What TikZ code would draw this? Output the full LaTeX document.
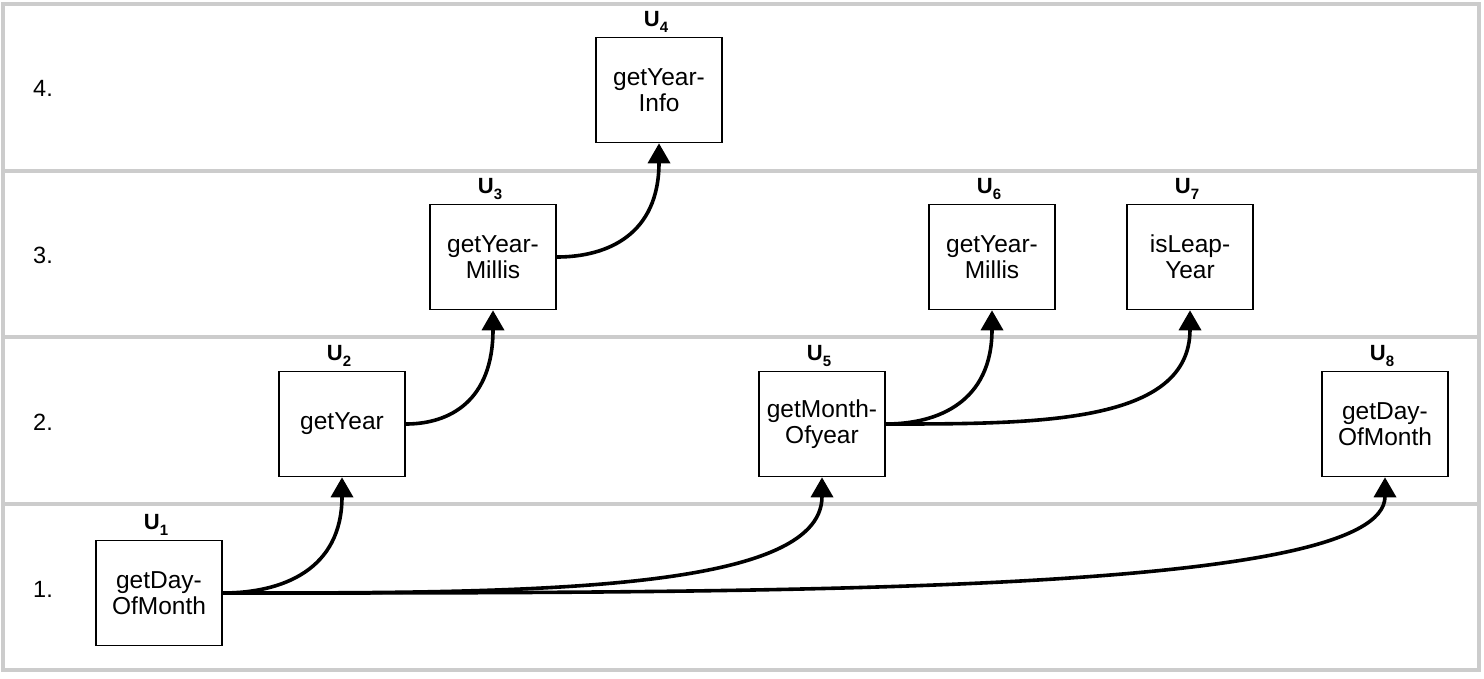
\documentclass[tikz,border=0pt]{standalone}
\usepackage{fontspec}
\setmainfont{Liberation Sans}
\usetikzlibrary{arrows.meta,calc}
\newcommand\usub[1]{\raisebox{-5.5pt}{\fontsize{15}{15}\selectfont\bfseries #1}}
\begin{document}
\begin{tikzpicture}[x=1pt,y=-1pt,
  lane/.style={draw=black!20,line width=3.5pt},
  fn/.style={draw=black,line width=1.6pt,minimum width=126pt,minimum height=105pt,inner sep=0pt,align=center,font=\fontsize{24.5}{26}\selectfont},
  lbl/.style={font=\fontsize{22}{22}\selectfont\bfseries,anchor=base,inner sep=0pt},
  lanenum/.style={font=\fontsize{23.5}{26}\selectfont,anchor=west,inner sep=0pt},
  call/.style={line width=3.6pt,-{Triangle[width=22pt,length=20pt]}}
]
\useasboundingbox (0,0) rectangle (1484,678);
% lanes
\draw[lane] (3,4) rectangle (1479,670);
\draw[lane] (3,171) -- (1479,171);
\draw[lane] (3,337) -- (1479,337);
\draw[lane] (3,504) -- (1479,504);
\node[lanenum] (n4) at (33,88) {4.};
\node[lanenum] (n3) at (33,255) {3.};
\node[lanenum] (n2) at (33,422) {2.};
\node[lanenum] (n1) at (33,589) {1.};
% boxes
\node[fn] (u1) at (159,593) {getDay-\\OfMonth};
\node[fn] (u2) at (342,424) {getYear};
\node[fn] (u3) at (493,257) {getYear-\\Millis};
\node[fn] (u4) at (659,90) {getYear-\\Info};
\node[fn] (u5) at (822,424) {getMonth-\\Ofyear};
\node[fn] (u6) at (992,257) {getYear-\\Millis};
\node[fn] (u7) at (1190,257) {isLeap-\\Year};
\node[fn] (u8) at (1385,424) {getDay-\\OfMonth};
% labels
\node[lbl] (l1) at ($(u1.north)+(-3,-10)$) {U\usub{1}};
\node[lbl] (l2) at ($(u2.north)+(-3,-10)$) {U\usub{2}};
\node[lbl] (l3) at ($(u3.north)+(-3,-10)$) {U\usub{3}};
\node[lbl] (l4) at ($(u4.north)+(-3,-10)$) {U\usub{4}};
\node[lbl] (l5) at ($(u5.north)+(-3,-10)$) {U\usub{5}};
\node[lbl] (l6) at ($(u6.north)+(-3,-10)$) {U\usub{6}};
\node[lbl] (l7) at ($(u7.north)+(-3,-10)$) {U\usub{7}};
\node[lbl] (l8) at ($(u8.north)+(-3,-10)$) {U\usub{8}};
% connectors
\draw[call] (u1.east) .. controls ($(u1.east)!0.5!(u2.south |- u1.east)$) and ($(u2.south |- u1.east)!0.2!(u2.south)$) .. (u2.south);
\draw[call] (u1.east) .. controls ($(u1.east)!0.5!(u5.south |- u1.east)$) and (u5.south |- u1.east) .. (u5.south);
\draw[call] (u1.east) .. controls ($(u1.east)!0.5!(u8.south |- u1.east)$) and (u8.south |- u1.east) .. (u8.south);
\draw[call] (u2.east) .. controls ($(u2.east)!0.5!(u3.south |- u2.east)$) and ($(u3.south |- u2.east)!0.2!(u3.south)$) .. (u3.south);
\draw[call] (u3.east) .. controls ($(u3.east)!0.5!(u4.south |- u3.east)$) and ($(u4.south |- u3.east)!0.2!(u4.south)$) .. (u4.south);
\draw[call] (u5.east) .. controls ($(u5.east)!0.5!(u6.south |- u5.east)$) and ($(u6.south |- u5.east)!0.2!(u6.south)$) .. (u6.south);
\draw[call] (u5.east) .. controls ($(u5.east)!0.5!(u7.south |- u5.east)$) and (u7.south |- u5.east) .. (u7.south);
\end{tikzpicture}
\end{document}
